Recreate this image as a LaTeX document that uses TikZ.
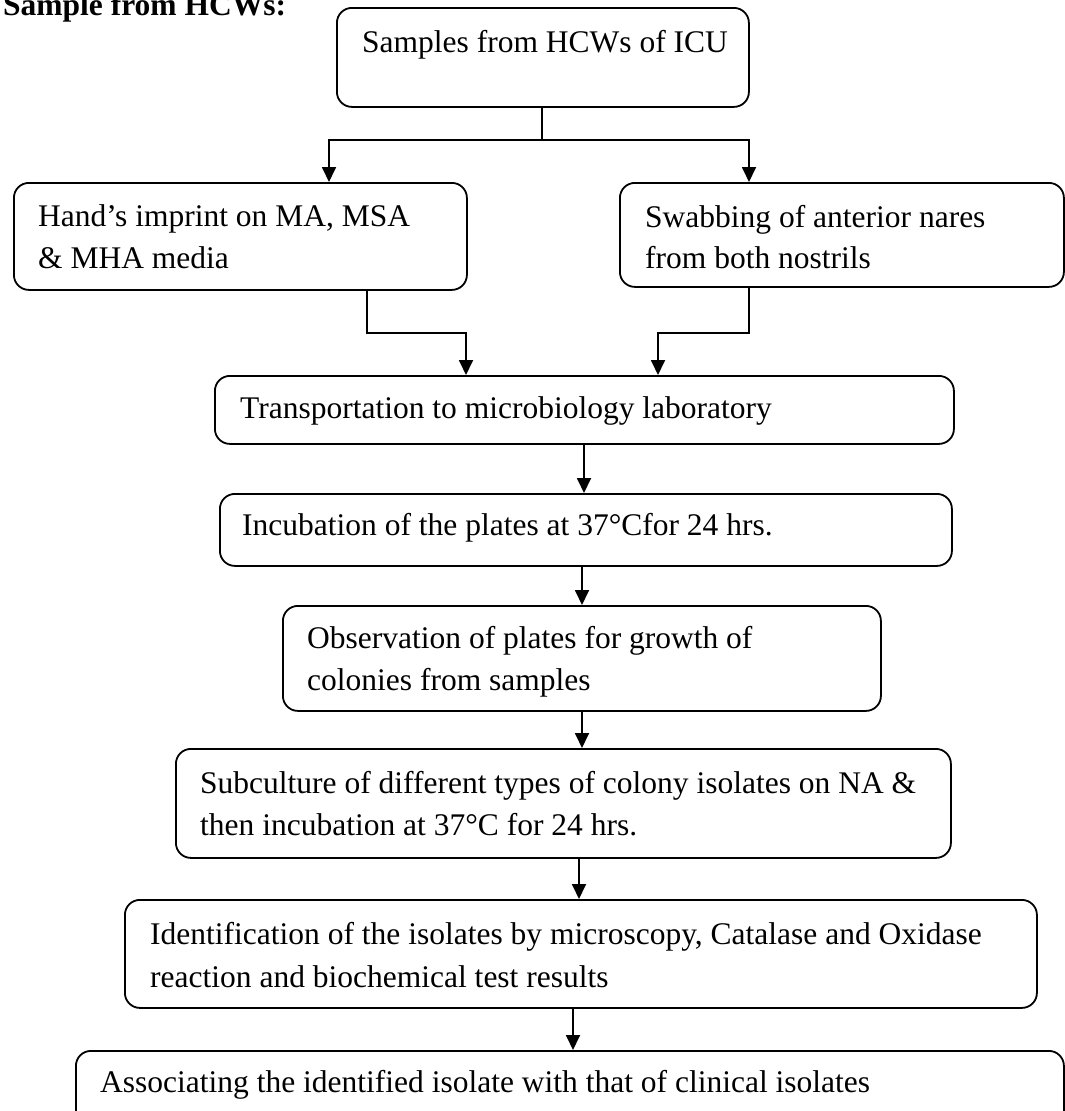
\documentclass[tikz,border=0pt]{standalone}
\usepackage{fontspec}
\setmainfont{Liberation Serif}
\usetikzlibrary{arrows.meta}

\begin{document}
\begin{tikzpicture}[x=1pt,y=-1pt,
  box/.style={draw, line width=1.8pt, rounded corners=15pt, inner sep=0pt, anchor=north west},
  txt/.style={anchor=base west, inner sep=0pt, font=\fontsize{31.5}{42}\selectfont},
  conn/.style={line width=1.8pt},
  arr/.style={conn, -{Triangle[length=15pt,width=14pt]}}
]
% page
\fill[white] (0,0) rectangle (1065,1111);
\useasboundingbox (0,0) rectangle (1065,1111);

% heading
\node[txt, font=\fontsize{31.5}{42}\selectfont\bfseries] (title) at (3,15) {Sample from HCWs:};

% boxes
\node[box, minimum width=412pt, minimum height=99pt]  (b1) at (336,7)    {};
\node[box, minimum width=453pt, minimum height=107pt] (b2) at (13,182)   {};
\node[box, minimum width=444pt, minimum height=104pt] (b3) at (619,182)  {};
\node[box, minimum width=739pt, minimum height=68pt]  (b4) at (214,375)  {};
\node[box, minimum width=732pt, minimum height=72pt]  (b5) at (219,493)  {};
\node[box, minimum width=598pt, minimum height=105pt] (b6) at (282,605)  {};
\node[box, minimum width=775pt, minimum height=109pt] (b7) at (175,748)  {};
\node[box, minimum width=912pt, minimum height=108pt] (b8) at (124,899)  {};
\node[box, minimum width=988pt, minimum height=95pt]  (b9) at (75,1050)  {};

% box texts
\node[txt] (t1)  at (362,52)   {Samples from HCWs of ICU};
\node[txt] (t2a) at (38,226)   {Hand’s imprint on MA, MSA};
\node[txt] (t2b) at (38,268)   {\& MHA media};
\node[txt] (t3a) at (645,227)  {Swabbing of anterior nares};
\node[txt] (t3b) at (645,268)  {from both nostrils};
\node[txt] (t4)  at (240,418)  {Transportation to microbiology laboratory};
\node[txt] (t5)  at (242,535)  {Incubation of the plates at 37°Cfor 24 hrs.};
\node[txt] (t6a) at (307,648)  {Observation of plates for growth of};
\node[txt] (t6b) at (307,690)  {colonies from samples};
\node[txt] (t7a) at (200,793)  {Subculture of different types of colony isolates on NA \&};
\node[txt] (t7b) at (200,835)  {then incubation at 37°C for 24 hrs.};
\node[txt] (t8a) at (150,944)  {Identification of the isolates by microscopy, Catalase and Oxidase};
\node[txt] (t8b) at (150,987)  {reaction and biochemical test results};
\node[txt] (t9)  at (100,1092) {Associating the identified isolate with that of clinical isolates};

% junction points and connector columns
\coordinate (j1) at (542,140);
\coordinate (j2) at (367,333);
\coordinate (j3) at (749,333);
\coordinate (xa) at (329,0);
\coordinate (xb) at (749,0);
\coordinate (xc) at (466,0);
\coordinate (xd) at (658,0);
\coordinate (x45) at (584,0);
\coordinate (x56) at (582,0);
\coordinate (x67) at (582,0);
\coordinate (x78) at (579,0);
\coordinate (x89) at (573,0);

% split into the two sampling routes
\draw[conn] (b1.south -| j1) -- (j1);
\draw[arr] (j1) -| (b2.north -| xa);
\draw[arr] (j1) -| (b3.north -| xb);

% merge into transportation
\draw[arr] (b2.south -| j2) -- (j2) -| (b4.north -| xc);
\draw[arr] (b3.south -| j3) -- (j3) -| (b4.north -| xd);

% main chain
\draw[arr] (b4.south -| x45) -- (b5.north -| x45);
\draw[arr] (b5.south -| x56) -- (b6.north -| x56);
\draw[arr] (b6.south -| x67) -- (b7.north -| x67);
\draw[arr] (b7.south -| x78) -- (b8.north -| x78);
\draw[arr] (b8.south -| x89) -- (b9.north -| x89);
\end{tikzpicture}
\end{document}
